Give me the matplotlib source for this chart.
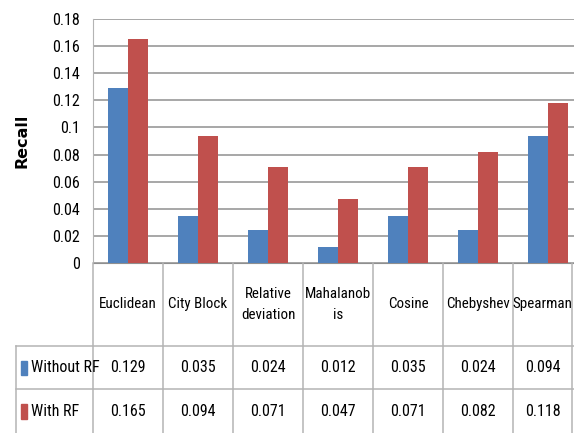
import matplotlib
matplotlib.use("Agg")
import matplotlib.pyplot as plt
from matplotlib.ticker import FuncFormatter
from matplotlib.patches import Rectangle
import numpy as np

measures = ["Euclidean", "City Block", "Relative\ndeviation", "Mahalanob\nis",
            "Cosine", "Chebyshev", "Spearman"]
without_rf = [0.129, 0.035, 0.024, 0.012, 0.035, 0.024, 0.094]
with_rf = [0.165, 0.094, 0.071, 0.047, 0.071, 0.082, 0.118]
series_names = ["Without RF", "With RF"]
colors = ["#4F81BD", "#C0504D"]

narrow = dict(family=["Roboto Condensed", "DejaVu Sans"], stretch="condensed")
grid_c = "#8f8f8f"
line_c = "#b4b4b4"

W, H = 574, 433
fig = plt.figure(figsize=(W / 100, H / 100), dpi=100)

# plot area in pixels: x 93..583 (last column runs off the edge), y 19..263
ax = fig.add_axes([93 / W, (H - 263) / H, (583 - 93) / W, (263 - 19) / H])
x = np.arange(len(measures))
bw = 0.29
ax.bar(x - bw / 2, without_rf, bw, color=colors[0], zorder=3)
ax.bar(x + bw / 2, with_rf, bw, color=colors[1], zorder=3)
ax.set_xlim(-0.5, len(measures) - 0.5)
ax.set_ylim(0, 0.18)
ax.set_yticks(np.arange(0, 0.181, 0.02))
ax.yaxis.set_major_formatter(FuncFormatter(lambda v, p: "%g" % round(v, 2)))
ax.set_xticks([])
ax.grid(axis="y", color=grid_c, linewidth=1.1, zorder=0)
for s in ["top", "right"]:
    ax.spines[s].set_visible(False)
ax.spines["left"].set_color(line_c)
ax.spines["bottom"].set_color(grid_c)
ax.tick_params(axis="y", length=0, pad=9.5, labelsize=11.5)
for lab in ax.get_yticklabels():
    lab.set_fontfamily(narrow["family"])
    lab.set_fontstretch("condensed")

fig.text(22 / W, 1 - 141 / H, "Recall", rotation=90, ha="center", va="center",
         fontsize=11.5, fontweight="bold", family="DejaVu Sans")

# data table under the chart
row_edges = [0, 1.9, 2.9, 3.9]
tx = fig.add_axes([16 / W, 0, (583 - 16) / W, (H - 263) / H])
left_edge = -0.5 - 77 / 70
right_edge = len(measures) - 0.5
tx.set_xlim(left_edge, right_edge)
tx.set_ylim(row_edges[-1], 0)
tx.axis("off")

lk = dict(color=line_c, linewidth=1.1, clip_on=False)
for b in np.arange(-0.5, len(measures), 1.0):
    tx.plot([b, b], [0, row_edges[-1]], **lk)
tx.plot([left_edge, left_edge], [row_edges[1], row_edges[-1]], **lk)
for r in row_edges[1:3]:
    tx.plot([left_edge, right_edge], [r, r], **lk)
edge_x = left_edge + (572 - 16) / 70
tx.plot([edge_x, edge_x], [0, row_edges[-1]], **lk)

# header labels sit in the middle of the visible part of each cell
for i, m in enumerate(measures):
    xc = (i - 0.5 + min(i + 0.5, edge_x)) / 2
    tx.text(xc, row_edges[1] / 2, m, ha="center", va="center", fontsize=10.8,
            linespacing=1.6, **narrow)

for k, vals in enumerate([without_rf, with_rf]):
    yc = (row_edges[k + 1] + row_edges[k + 2]) / 2
    tx.add_patch(Rectangle((left_edge + 5 / 70, yc - 0.16), 6 / 70, 0.33,
                           color=colors[k], clip_on=False))
    tx.text(left_edge + 15 / 70, yc, series_names[k], ha="left", va="center",
            fontsize=11.5, **narrow)
    for i, v in enumerate(vals):
        xc = (i - 0.5 + min(i + 0.5, edge_x)) / 2
        tx.text(xc, yc, "%.3f" % v, ha="center", va="center", fontsize=11.5,
                **narrow)

fig.savefig("out.png", dpi=100)
